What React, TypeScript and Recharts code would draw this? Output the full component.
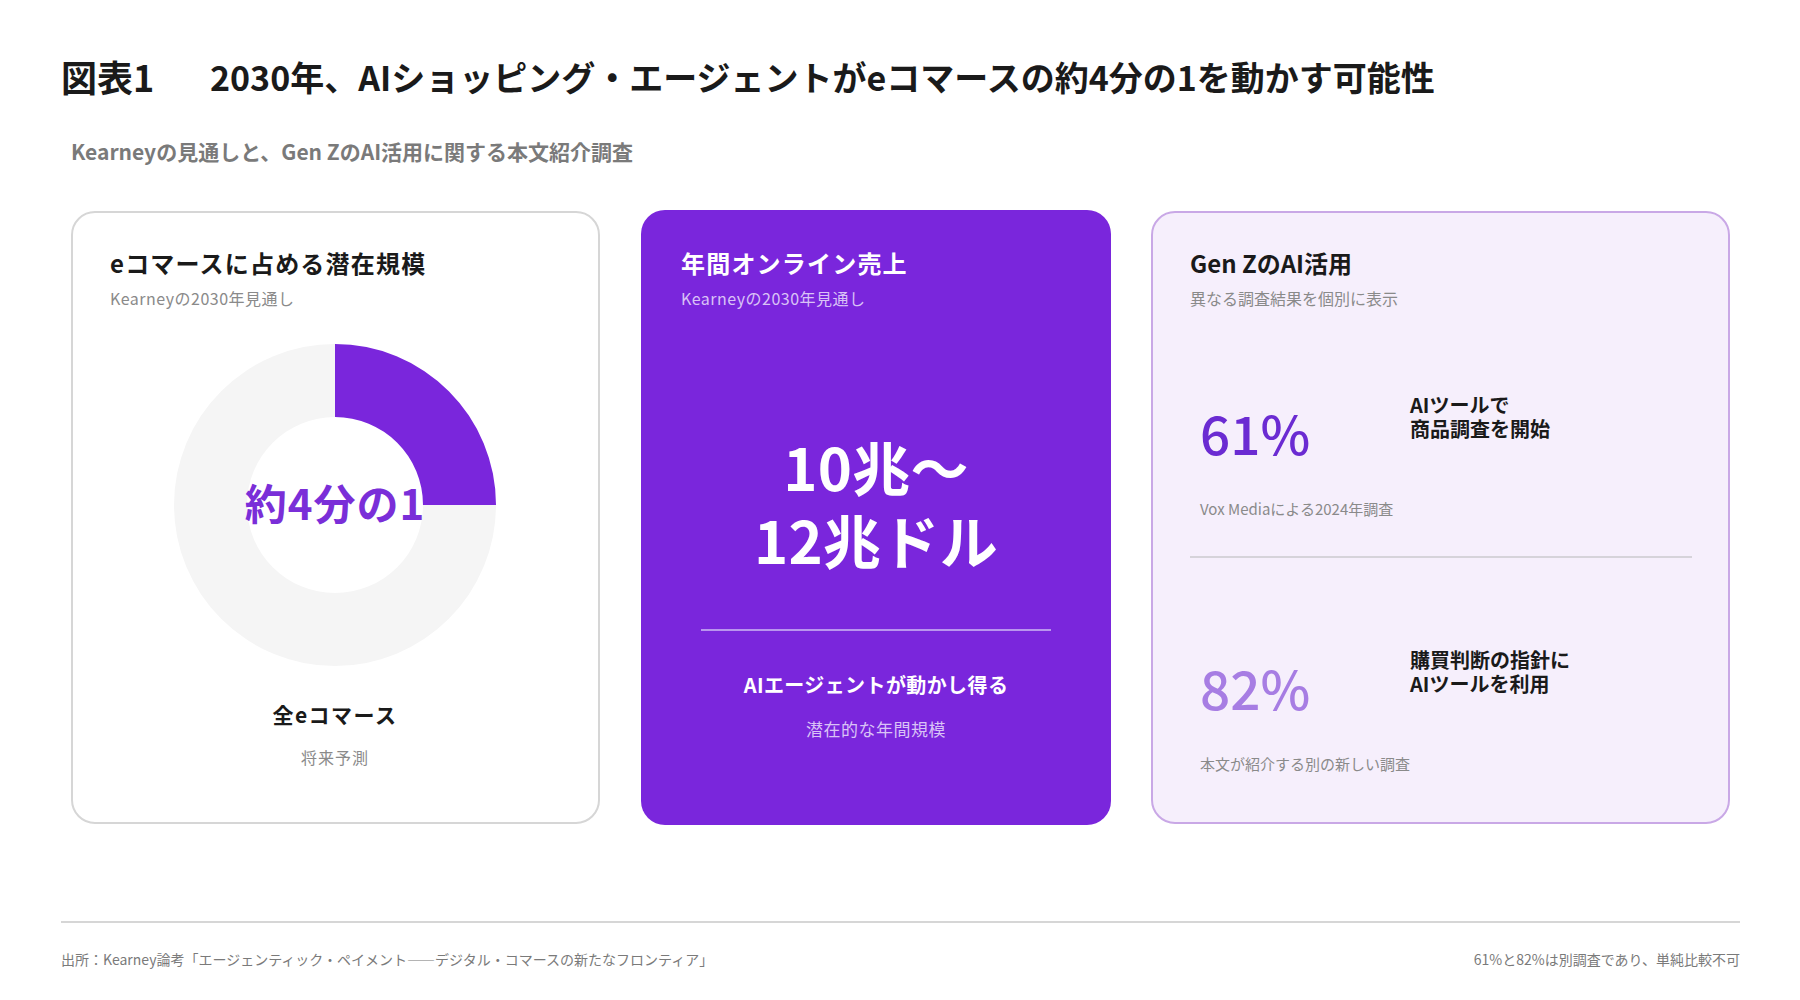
import React from "react";
import { PieChart, Pie, Cell, Label } from "recharts";

// donut: share of all e-commerce that AI agents could move by 2030
const shareLabels = ["AIエージェント", "その他のeコマース"];
const shareValues = [25, 75];

// Gen Z survey results (separate surveys)
const statValues = [61, 82];
const statCaptions = [
  ["AIツールで", "商品調査を開始"],
  ["購買判断の指針に", "AIツールを利用"],
];
const statSources = ["Vox Mediaによる2024年調査", "本文が紹介する別の新しい調査"];

const revenueLines = ["10兆～", "12兆ドル"];

const FONT = "'Noto Sans CJK JP', 'Noto Sans', sans-serif";
const PURPLE = "#7a26dc";
const SLICE_COLORS = [PURPLE, "#f5f5f5"];
const STAT_COLORS = ["#6b2bd2", "#a77de3"];

type TProps = {
  x: number;
  y: number;
  size: number;
  color?: string;
  weight?: number;
  center?: boolean;
  right?: boolean;
  spacing?: number;
  lines?: number;
  lh?: number;
  children: React.ReactNode;
};

// text placed by the vertical centre of its block
const T = ({ x, y, size, color = "#1a1a1a", weight = 400, center, right, spacing = 0, lines = 1, lh, children }: TProps) => {
  const lineH = lh ?? size * 1.15;
  const h = lineH * lines;
  return (
    <div
      style={{
        position: "absolute",
        left: right ? undefined : x,
        right: right ? x : undefined,
        top: y - h / 2,
        height: h,
        lineHeight: `${lineH}px`,
        fontSize: size,
        fontWeight: weight,
        color,
        letterSpacing: spacing,
        whiteSpace: "nowrap",
        textAlign: center ? "center" : "left",
        transform: center ? "translateX(-50%)" : undefined,
      }}
    >
      {children}
    </div>
  );
};

const withBreaks = (arr: string[]) =>
  arr.map((s, i) => (
    <React.Fragment key={s}>
      {i > 0 && <br />}
      {s}
    </React.Fragment>
  ));

const shareData = shareLabels.map((name, i) => ({ name, value: shareValues[i] }));

const App: React.FC = () => {
  return (
    <div
      style={{
        position: "absolute",
        left: 0,
        top: 0,
        width: 1800,
        height: 1000,
        background: "#ffffff",
        fontFamily: FONT,
        overflow: "hidden",
      }}
    >
      {/* header */}
      <T x={61} y={77} size={36} weight={700}>図表1</T>
      <T x={210} y={77} size={34} weight={700}>
        2030年、AIショッピング・エージェントがeコマースの約4分の1を動かす可能性
      </T>
      <T x={71} y={151} size={21} weight={700} color="#7a7a7a">
        Kearneyの見通しと、Gen ZのAI活用に関する本文紹介調査
      </T>

      {/* card 1: donut */}
      <div
        style={{
          position: "absolute",
          left: 71,
          top: 211,
          width: 529,
          height: 613,
          boxSizing: "border-box",
          border: "2px solid #d6d6d6",
          borderRadius: 24,
          background: "#ffffff",
        }}
      >
        <T x={37} y={50} size={24} weight={700} spacing={1.2}>eコマースに占める潜在規模</T>
        <T x={37} y={85} size={16} color="#8a8a8a" spacing={0.5}>Kearneyの2030年見通し</T>
        <div style={{ position: "absolute", left: 262 - 180, top: 292 - 180 }}>
          <PieChart width={360} height={360}>
            <Pie
              data={shareData}
              dataKey="value"
              nameKey="name"
              cx="50%"
              cy="50%"
              innerRadius={88}
              outerRadius={161}
              startAngle={90}
              endAngle={-270}
              stroke="none"
              isAnimationActive={false}
            >
              {shareData.map((d, i) => (
                <Cell key={d.name} fill={SLICE_COLORS[i]} />
              ))}
              <Label
                value="約4分の1"
                position="center"
                fill="#7a2ed8"
                fontSize={42}
                fontWeight={700}
                fontFamily={FONT}
                letterSpacing={1}
              />
            </Pie>
          </PieChart>
        </div>
        <T x={262} y={501} size={21} weight={700} center spacing={1.5}>全eコマース</T>
        <T x={262} y={544} size={16} color="#8a8a8a" center spacing={1}>将来予測</T>
      </div>

      {/* card 2: annual online sales */}
      <div
        style={{
          position: "absolute",
          left: 641,
          top: 210,
          width: 470,
          height: 615,
          borderRadius: 24,
          background: PURPLE,
        }}
      >
        <T x={40} y={53} size={24} weight={700} color="#ffffff" spacing={1.2}>年間オンライン売上</T>
        <T x={40} y={88} size={16} color="#d9c2f6" spacing={0.5}>Kearneyの2030年見通し</T>
        <T x={235} y={293} size={58} weight={700} color="#ffffff" center spacing={0.3} lines={2} lh={73}>
          {withBreaks(revenueLines)}
        </T>
        <div style={{ position: "absolute", left: 60, top: 419, width: 350, height: 2, background: "#b994ee" }} />
        <T x={235} y={474} size={20} weight={700} color="#ffffff" center spacing={0.4}>AIエージェントが動かし得る</T>
        <T x={235} y={519} size={17} color="#d9c2f6" center spacing={0.5}>潜在的な年間規模</T>
      </div>

      {/* card 3: Gen Z */}
      <div
        style={{
          position: "absolute",
          left: 1151,
          top: 211,
          width: 579,
          height: 613,
          boxSizing: "border-box",
          border: "2px solid #c9a8e6",
          borderRadius: 24,
          background: "#f6effc",
        }}
      >
        <T x={37} y={50} size={24} weight={700}>Gen ZのAI活用</T>
        <T x={37} y={85} size={16} color="#8a8a8a">異なる調査結果を個別に表示</T>
        {statValues.map((v, i) => {
          const oy = i * 255;
          return (
            <React.Fragment key={v}>
              <T x={47} y={219 + oy} size={53} weight={500} color={STAT_COLORS[i]}>
                {v}%
              </T>
              <T x={257} y={204 + oy} size={20} weight={700} lines={2} lh={24}>
                {withBreaks(statCaptions[i])}
              </T>
              <T x={47} y={296 + oy} size={15} color="#8a8a8a">
                {statSources[i]}
              </T>
            </React.Fragment>
          );
        })}
        <div style={{ position: "absolute", left: 37, top: 343, width: 502, height: 2, background: "#d6d3da" }} />
      </div>

      {/* footer */}
      <div style={{ position: "absolute", left: 61, top: 921, width: 1679, height: 2, background: "#d6d6d6" }} />
      <T x={61} y={959} size={14} color="#7a7a7a">
        出所：Kearney論考「エージェンティック・ペイメント――デジタル・コマースの新たなフロンティア」
      </T>
      <T x={60} y={959} size={14} color="#7a7a7a" right>
        61%と82%は別調査であり、単純比較不可
      </T>
    </div>
  );
};

export default App;
